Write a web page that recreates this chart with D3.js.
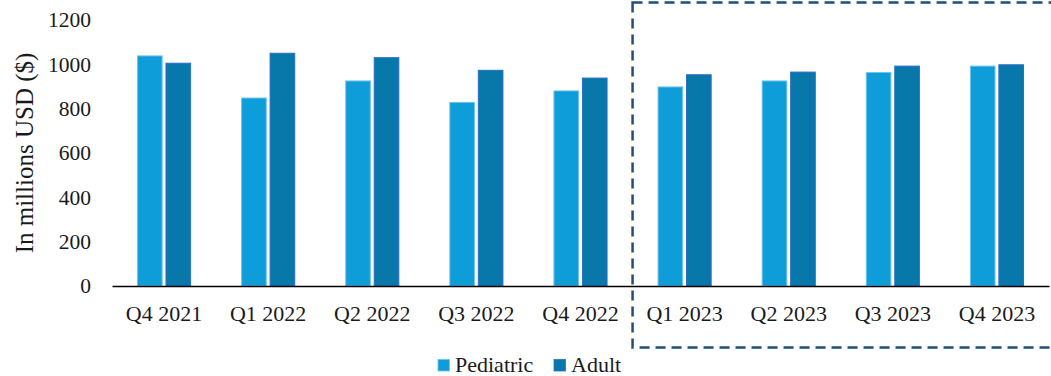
<!DOCTYPE html>
<html><head><meta charset="utf-8">
<script src="https://cdn.jsdelivr.net/npm/d3@7"></script>
<style>body{margin:0;background:#fff}svg{display:block}text{font-family:"Liberation Serif","DejaVu Serif",serif;fill:#1a1a1a}</style>
</head><body>
<svg id="c" width="1051" height="376"></svg>
<script>
const categories = ["Q4 2021","Q1 2022","Q2 2022","Q3 2022","Q4 2022","Q1 2023","Q2 2023","Q3 2023","Q4 2023"];
const pediatric = [1038, 848, 925, 828, 880, 898, 925, 963, 992];
const adult = [1005, 1050, 1030, 973, 938, 953, 965, 992, 998];
const seriesNames = ["Pediatric","Adult"];
const yTicks = [0,200,400,600,800,1000,1200];

const svg = d3.select("#c");
const x = d3.scaleBand().domain(categories).range([112, 1049]);
const y = d3.scaleLinear().domain([0,1200]).range([286, 20]);
const inner = d3.scaleBand().domain(seriesNames).range([25, x.bandwidth()-25]).paddingInner(0.1);
const fills = {Pediatric:"#0f9dd9", Adult:"#0878ab"};
const strokes = {Pediatric:"#6cc4ee", Adult:"#2a6ec6"};

const data = categories.map((c,i)=>({c, vals:[{s:"Pediatric",v:pediatric[i]},{s:"Adult",v:adult[i]}]}));
const g = svg.append("g");
g.selectAll("g.cat").data(data).join("g").attr("transform",d=>`translate(${x(d.c)},0)`)
 .selectAll("rect").data(d=>d.vals).join("rect")
 .attr("x",d=>inner(d.s)+0.5).attr("width",inner.bandwidth()-1)
 .attr("y",d=>y(d.v)).attr("height",d=>y(0)-y(d.v))
 .attr("fill",d=>fills[d.s]).attr("stroke",d=>strokes[d.s]).attr("stroke-width",1);

// x axis
const xa = svg.append("g").attr("transform","translate(0,286)").call(d3.axisBottom(x).tickSize(0).tickPadding(19));
xa.attr("font-family",null);
xa.select(".domain").attr("stroke","#000").attr("stroke-width",1.5);
xa.selectAll("text").attr("font-size",22).attr("font-family","Liberation Serif").attr("fill","#1a1a1a");

// y axis
const ya = svg.append("g").attr("transform","translate(91,0)").call(d3.axisLeft(y).tickValues(yTicks).tickFormat(d3.format("d")).tickSize(0).tickPadding(0));
ya.select(".domain").remove();
ya.selectAll("text").attr("font-size",21.5).attr("font-family","Liberation Serif").attr("fill","#1a1a1a");

svg.append("text").attr("transform","translate(33,153) rotate(-90)").attr("text-anchor","middle")
 .attr("font-size",25).text("In millions USD ($)");

// dashed box
svg.append("rect").attr("x",x("Q1 2023")).attr("y",2.5).attr("width",460).attr("height",345)
 .attr("fill","none").attr("stroke","#1f4e79").attr("stroke-width",2.5).attr("stroke-dasharray","10,6");

// legend
const leg = svg.append("g");
const lx = [438, 554];
seriesNames.forEach((s,i)=>{
  leg.append("rect").attr("x",lx[i]).attr("y",359.5).attr("width",11.5).attr("height",11.5).attr("fill",fills[s]).attr("stroke",strokes[s]).attr("stroke-width",0.8);
  leg.append("text").attr("x",lx[i]+17).attr("y",371.5).attr("font-size",22).text(s);
});
</script>
</body></html>
